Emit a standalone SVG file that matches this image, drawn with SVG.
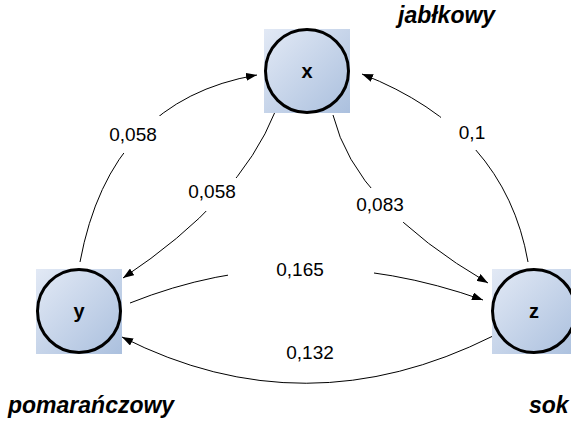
<svg xmlns="http://www.w3.org/2000/svg" width="571" height="422" viewBox="0 0 571 422">
<defs>
<linearGradient id="g" x1="0" y1="0" x2="1" y2="1">
<stop offset="0" stop-color="#e2e9f5"/>
<stop offset="1" stop-color="#abc0de"/>
</linearGradient>
<marker id="ah" markerUnits="userSpaceOnUse" markerWidth="11" markerHeight="8" refX="11" refY="4" orient="auto">
<path d="M0,0 L11,4 L0,8 z" fill="#000"/>
</marker>
</defs>
<style>
.sq{fill:url(#g);stroke:none}
.c{fill:url(#g);stroke:#000;stroke-width:3}
.nl{font-family:"Liberation Sans",Arial,sans-serif;font-weight:bold;font-size:20px;text-anchor:middle}
.e{fill:none;stroke:#000;stroke-width:1;marker-end:url(#ah)}
.gap{fill:#fff;stroke:none}
.el{font-family:"Liberation Sans",Arial,sans-serif;font-size:19px;text-anchor:middle;fill:#000}
.t{font-family:"Liberation Sans",Arial,sans-serif;font-size:23px;font-weight:bold;font-style:italic;fill:#000}
</style>
<g id="connectors">
<path class="e" d="M80,262 Q110,100 257,75"/>
<path class="e" d="M275,112 Q240,200 123,278"/>
<path class="e" d="M333,115 Q355,205 488,283"/>
<path class="e" d="M528,262 Q505,130 362,74"/>
<path class="e" d="M130,303 Q300,235 483,300"/>
<path class="e" d="M493,336 Q305,430 122,337"/>
<rect class="gap" x="104" y="116" width="58" height="37"/>
<rect class="gap" x="185" y="178" width="63" height="33"/>
<rect class="gap" x="352" y="188" width="56" height="34"/>
<rect class="gap" x="441" y="116" width="48" height="34"/>
<rect class="gap" x="228" y="256" width="146" height="26"/>
<text class="el" x="133" y="141">0,058</text>
<text class="el" x="212" y="198">0,058</text>
<text class="el" x="380" y="211">0,083</text>
<text class="el" x="472" y="139">0,1</text>
<text class="el" x="300" y="276">0,165</text>
<text class="el" x="310" y="359">0,132</text>
</g>
<g id="node-x">
<rect class="sq" x="264" y="29" width="86" height="84"/>
<circle class="c" cx="307" cy="71" r="41.5"/>
<text class="nl" x="307" y="78">x</text>
</g>
<g id="node-y">
<rect class="sq" x="36" y="269" width="86" height="85"/>
<circle class="c" cx="79" cy="311" r="41.5"/>
<text class="nl" x="79" y="318">y</text>
</g>
<g id="node-z">
<rect class="sq" x="492" y="269" width="86" height="85"/>
<circle class="c" cx="534" cy="311" r="41.5"/>
<text class="nl" x="534" y="318">z</text>
</g>
<g id="titles">
<text class="t" x="398" y="23">jabłkowy</text>
<text class="t" x="8" y="413">pomarańczowy</text>
<text class="t" x="529" y="413">sok</text>
</g>
</svg>
